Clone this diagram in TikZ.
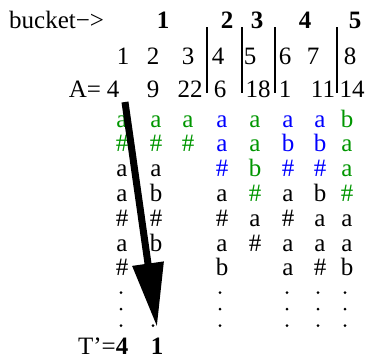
\documentclass[tikz,border=0pt]{standalone}
\usepackage{fontspec}
\setmainfont{Liberation Serif}
\usetikzlibrary{arrows.meta}
\definecolor{cg}{RGB}{0,150,0}
\definecolor{cb}{RGB}{0,0,255}
\definecolor{ck}{RGB}{0,0,0}
\begin{document}
\begin{tikzpicture}[x=1pt,y=-1pt,
  txt/.style={anchor=base,inner sep=0pt,font=\fontsize{25}{28}\selectfont},
  hd/.style={txt,font=\fontsize{25}{28}\selectfont\bfseries},
  dotc/.style={circle,fill=black,inner sep=0pt,minimum size=3pt},
  bar/.style={line width=1.2pt},
  bigarrow/.style={line width=7pt,-{Triangle[length=64pt,width=30pt]}}]
\useasboundingbox (0,0) rectangle (370,359);
% header
\node[txt,anchor=base west] (bucket) at (9,28) {bucket−>};
\foreach \x/\t in {163/1,227/2,257/3,305/4,355/5}
  \node[hd] (h\t) at (\x,28) {\t};
% index row
\foreach \x/\t in {123/1,153/2,188/3,218/4,250/5,285/6,313/7,350/8}
  \node[txt] (i\t) at (\x,64) {\t};
% A row
\node[txt] (Alab) at (85,97) {A=};
\foreach \x/\t [count=\i] in {113/4,153/9,190/22,220/6,258/18,285/1,323/11,352/14}
  \node[txt] (a\i) at (\x,97) {\t};
% bars
\foreach \x in {207,242,275,337}
  \draw[bar] (\x,27) -- (\x,93);
% grid rows
\foreach \x/\t/\k in {122/a/cg,156/a/cg,188/a/cg,222/a/cb,255/a/cg,288/a/cb,320/a/cb,347/b/cg}
  \node[txt,text=\k] (r1-\x) at (\x,127) {\t};
\foreach \x/\t/\k in {122/\#/cg,156/\#/cg,188/\#/cg,222/a/cb,255/a/cg,288/b/cb,320/b/cb,347/a/cg}
  \node[txt,text=\k] (r2-\x) at (\x,151.8) {\t};
\foreach \x/\t/\k in {122/a/ck,156/a/ck,222/\#/cb,255/b/cg,288/\#/cb,320/\#/cb,347/a/cg}
  \node[txt,text=\k] (r3-\x) at (\x,176.6) {\t};
\foreach \x/\t/\k in {122/a/ck,156/b/ck,222/a/ck,255/\#/cg,288/a/ck,320/b/ck,347/\#/cg}
  \node[txt,text=\k] (r4-\x) at (\x,201.4) {\t};
\foreach \x/\t in {122/\#,156/\#,222/\#,255/a,288/\#,320/a,347/a}
  \node[txt] (r5-\x) at (\x,226.2) {\t};
\foreach \x/\t in {122/a,156/b,222/a,255/\#,288/a,320/a,347/a}
  \node[txt] (r6-\x) at (\x,251) {\t};
\foreach \x/\t in {122/\#,222/b,288/a,320/\#,347/b}
  \node[txt] (r7-\x) at (\x,275.8) {\t};
% dots (vertical ellipses)
\foreach \x in {121,153,220,287,318,345}
  \foreach \y [count=\j] in {292.6,309.1,325.6}
    \node[dotc] (d\x-\j) at (\x,\y) {};
% T' row
\node[txt,anchor=base east] (Tlab) at (116,354) {T’=};
\node[hd] (t1) at (122,354) {4};
\node[hd] (t2) at (157,354) {1};
% arrow
\coordinate (arrS) at (125,102);
\coordinate (arrE) at (157,327);
\draw[bigarrow] (arrS) -- (arrE);
\end{tikzpicture}
\end{document}
